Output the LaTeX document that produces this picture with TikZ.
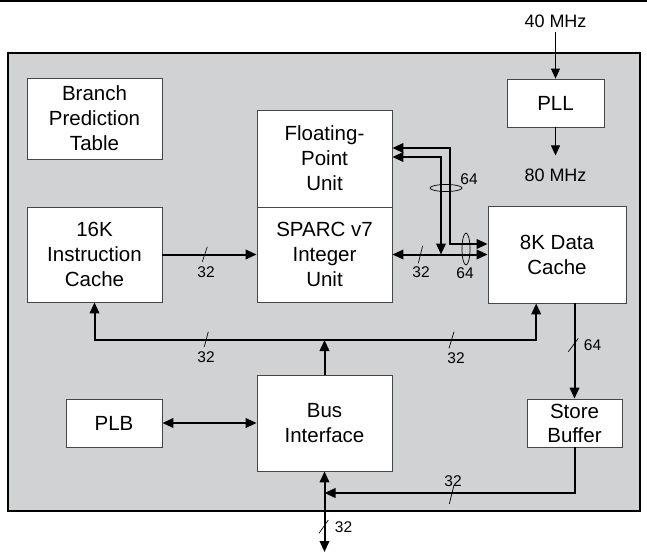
\documentclass[tikz,border=0pt]{standalone}
\usepackage{fontspec}
\setmainfont{Liberation Sans}
\usetikzlibrary{arrows.meta, calc}

\definecolor{chipgray}{RGB}{209,210,212}
\definecolor{boxline}{RGB}{70,70,70}

\tikzset{
    block/.style={draw=boxline, line width=0.8pt, fill=white, align=center,
        inner sep=0pt, font=\fontsize{20.5}{25}\selectfont},
    bus/.style={line width=2pt, >={Triangle[length=11pt,width=9.5pt]}},
    clk/.style={line width=0.9pt, >={Triangle[length=10pt,width=9pt]}},
    slash/.style={line width=0.7pt},
    bits/.style={font=\fontsize{15.5}{18}\selectfont, inner sep=0pt},
    freq/.style={font=\fontsize{18}{21}\selectfont, inner sep=4pt}
}

\begin{document}
\begin{tikzpicture}[x=1pt, y=-1pt]
    \useasboundingbox (0,0) rectangle (647,553);

    % ================= Chip outline =================
    \fill[black] (0,0) rectangle (647,2.2);
    \draw[line width=2pt, fill=chipgray] (8,53) rectangle (640,511);

    % ================= Blocks =================
    \node[block, minimum width=135, minimum height=81] (bpt) at (94.5,118.5) {Branch\\Prediction\\Table};
    \node[block, minimum width=97, minimum height=48] (pll) at (555.5,103) {PLL};
    \node[block, minimum width=135, minimum height=97] (fpu) at (324.5,158.5) {Floating-\\Point\\Unit};
    \node[block, minimum width=135, minimum height=95] (iu) at (324.5,254.5) {SPARC v7\\Integer\\Unit};
    \node[block, minimum width=135, minimum height=95] (icache) at (94.5,254.5) {16K\\Instruction\\Cache};
    \node[block, minimum width=138, minimum height=97] (dcache) at (557,254.5) {8K Data\\Cache};
    \node[block, minimum width=96, minimum height=48] (plb) at (114,423) {PLB};
    \node[block, minimum width=135, minimum height=96] (bus) at (324.5,423) {Bus\\Interface};
    \node[block, minimum width=95, minimum height=48, font=\fontsize{20.5}{24}\selectfont] (sb) at (574.5,423) {Store\\Buffer};

    % ================= Clock =================
    \node[freq] (f40) at (555.5,21) {40 MHz};
    \node[freq] (f80) at (555.5,175) {80 MHz};
    \draw[clk, ->] (f40) -- (pll);
    \draw[clk, ->, shorten >=9pt] (pll) -- (f80);

    % ================= Buses =================
    \coordinate (bj) at (324.5,340);
    \coordinate (fpuo) at (450,148);
    \coordinate (fpui) at (441,157);
    \coordinate (sbj) at (324.5,493);
    \coordinate (ext) at (324.5,552);

    \draw[bus, ->] (icache.east) -- (iu.west);
    \draw[bus, <->] (iu.east) -- (dcache.west);
    \draw[bus, <->] (fpu.east |- fpuo) -- (fpuo) |- (dcache.west |- 0,244);
    \draw[bus, <->] (fpu.east |- fpui) -- (fpui) -- (fpui |- iu.east);
    \draw[bus, ->] (bus.north) -- (bj);
    \draw[bus, <->] (icache.south) |- (bj) -| ($(dcache.south west)!0.35!(dcache.south east)$);
    \draw[bus, <->] (plb.east) -- (bus.west);
    \draw[bus, ->] (dcache.south -| sb.north) -- (sb.north);
    \draw[bus, ->] (sb.south) |- (sbj);
    \draw[bus, <->] (bus.south) -- (ext);

    % Bundles of 64
    \draw[slash] (446,188) ellipse (16 and 3.5);
    \draw[slash] (466,249) ellipse (4 and 16);
    \node[bits] at (469,179) {64};
    \node[bits] at (465,273) {64};

    % Bus widths
    \draw[slash] (202.3,261.7) -- (207.3,246.7);
    \node[bits] at (206,272.5) {32};
    \draw[slash] (418.3,263.3) -- (422.7,245.7);
    \node[bits] at (421,272) {32};
    \draw[slash] (204.3,346.7) -- (208.3,331.7);
    \node[bits] at (206,357) {32};
    \draw[slash] (449,348.3) -- (454,331.7);
    \node[bits] at (456,358.5) {32};
    \draw[slash] (568.3,351.7) -- (578.3,338.3);
    \node[bits] at (592.5,345) {64};
    \draw[slash] (449.3,504) -- (454,485);
    \node[bits] at (453,481.5) {32};
    \draw[slash] (319,533.3) -- (328.3,520);
    \node[bits] at (343.5,527.5) {32};

\end{tikzpicture}
\end{document}
